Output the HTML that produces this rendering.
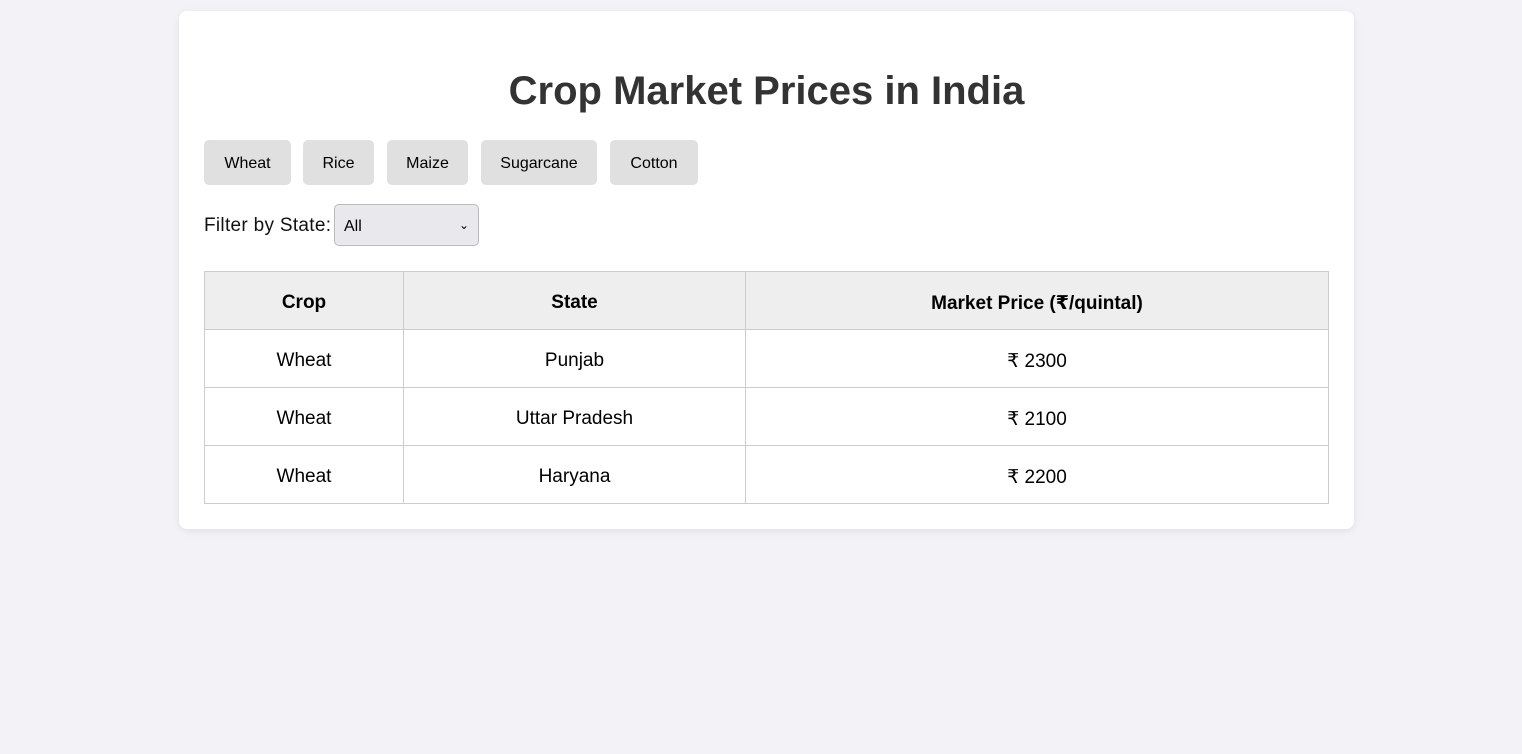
<!DOCTYPE html>
<html><head><meta charset="utf-8"><style>
body{margin:0;background:#f3f3f7;font-family:"Liberation Sans","DejaVu Sans",sans-serif;width:1522px;height:754px;overflow:hidden}
.card{position:absolute;left:179px;top:11px;width:1175px;height:518px;background:#fff;border-radius:8px;box-shadow:0 2px 8px rgba(0,0,0,0.08)}
h1{position:absolute;left:0;right:0;top:55px;margin:0;text-align:center;font-size:40px;font-weight:bold;color:#333;line-height:50px}
.btn{position:absolute;top:129px;height:45px;padding-top:3px;box-sizing:border-box;background:#e0e0e0;border-radius:5px;font-size:16px;color:#000;display:flex;align-items:center;justify-content:center}
.lbl{position:absolute;left:25px;top:204px;font-size:19px;color:#111;letter-spacing:0.3px}
.sel{position:absolute;left:155px;top:193px;width:145px;height:42px;border:1px solid #bbb;border-radius:5px;background:#e9e9ed;font-size:16px;box-sizing:border-box;padding-left:9px;line-height:44px}
.sel span{position:absolute;right:9px;top:-2px;font-size:12px}
table{position:absolute;left:25px;top:260px;width:1125px;border-collapse:collapse;font-size:19px}
td,th{border:1px solid #ccc;height:57px;text-align:center;padding:5px 0 0 0;box-sizing:border-box}
th{background:#eee;font-weight:bold}
</style></head><body>
<div class="card">
<h1>Crop Market Prices in India</h1>
<div class="btn" style="left:25px;width:87px">Wheat</div>
<div class="btn" style="left:124px;width:71px">Rice</div>
<div class="btn" style="left:208px;width:81px">Maize</div>
<div class="btn" style="left:302px;width:116px">Sugarcane</div>
<div class="btn" style="left:431px;width:88px">Cotton</div>
<div class="lbl">Filter by State:</div>
<div class="sel">All<span>&#8964;</span></div>
<table>
<tr style="height:58px"><th style="width:199px">Crop</th><th style="width:342px">State</th><th>Market Price (₹/quintal)</th></tr>
<tr style="height:58px"><td>Wheat</td><td>Punjab</td><td>₹ 2300</td></tr>
<tr style="height:58px"><td>Wheat</td><td>Uttar Pradesh</td><td>₹ 2100</td></tr>
<tr style="height:58px"><td>Wheat</td><td>Haryana</td><td>₹ 2200</td></tr>
</table>
</div>
</body></html>
